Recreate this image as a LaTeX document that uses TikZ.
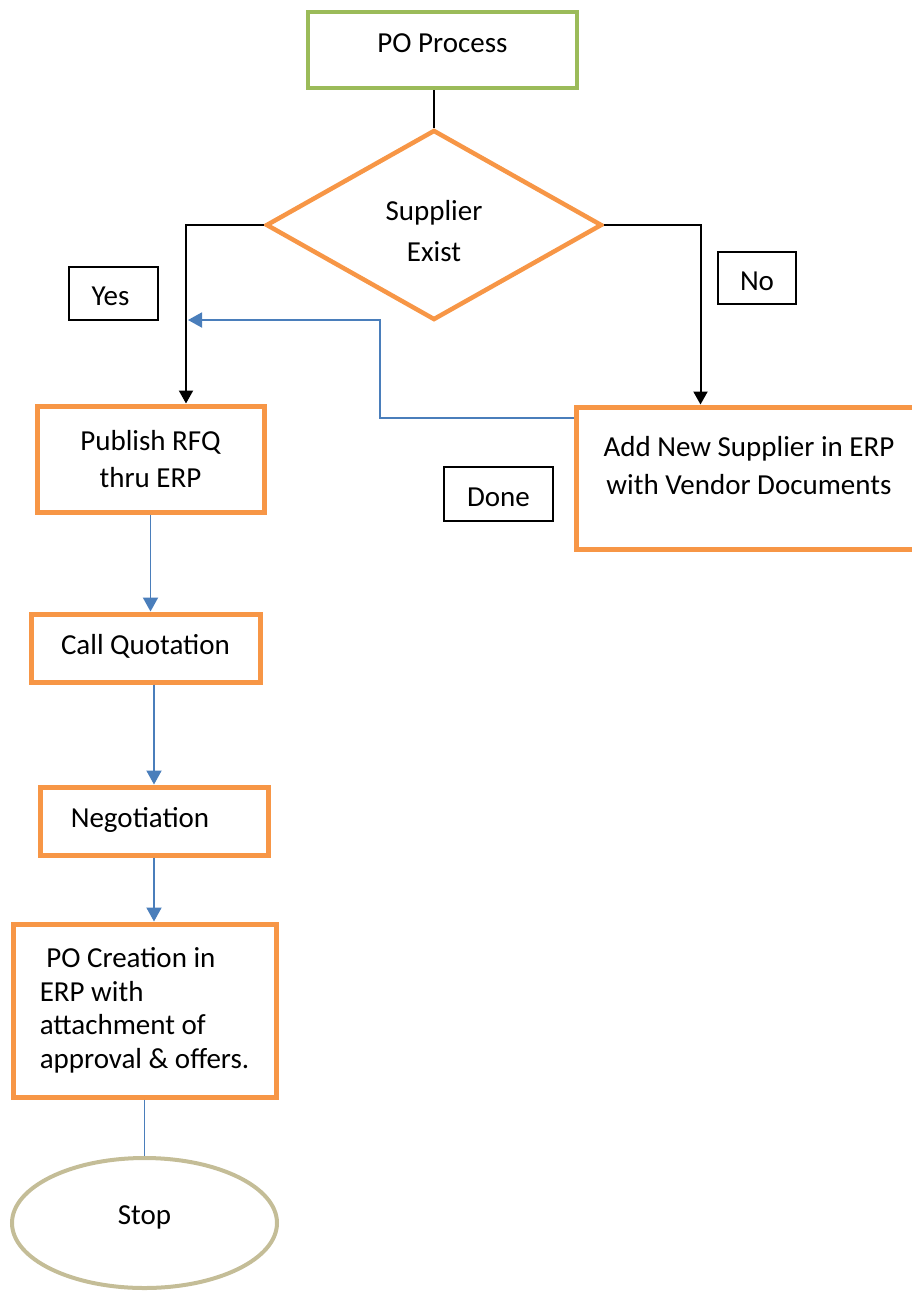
\documentclass[tikz,border=0pt]{standalone}
\usepackage{fontspec}
\setmainfont{Carlito}
\usetikzlibrary{arrows.meta,shapes.geometric,calc}
\definecolor{orng}{HTML}{F79646}
\definecolor{grn}{HTML}{9BBB59}
\definecolor{bluel}{HTML}{4A7EBB}
\definecolor{tanc}{HTML}{C4BD97}
\begin{document}
\begin{tikzpicture}[x=1pt,y=-1pt,
  every node/.style={font=\fontsize{29}{36}\selectfont, inner sep=0pt},
  obox/.style={draw=orng, line width=5pt, rectangle},
  tagbox/.style={draw=black, line width=1.2pt, rectangle},
  blk/.style={draw=black, line width=2pt},
  blu/.style={draw=bluel, line width=1.9pt},
  ktip/.style={-{Triangle[width=14pt,length=13pt]}},
  btip/.style={-{Triangle[width=15pt,length=14pt]}},
]
\useasboundingbox (0,0) rectangle (912,1291);
\clip (0,0) rectangle (912,1291);

\node[draw=grn, line width=4pt, rectangle, minimum width=269pt, minimum height=76pt,
  label={[yshift=7pt]center:PO Process}] (po) at (442.5,50) {};
\node[diamond, draw=orng, line width=4.5pt, minimum width=336pt, minimum height=190pt,
  label={[yshift=-6.5pt, align=center, font=\fontsize{29}{41}\selectfont]center:Supplier\\Exist}] (dia) at (434,225) {};

\node[tagbox, minimum width=89pt, minimum height=53pt,
  label={[xshift=-3pt, yshift=-3pt]center:Yes}] (yes) at (113.5,293.5) {};
\node[tagbox, minimum width=78pt, minimum height=52pt,
  label={[yshift=-3pt]center:No}] (no) at (757,278) {};
\node[tagbox, minimum width=109pt, minimum height=54pt,
  label={[yshift=-3pt]center:Done}] (done) at (498.5,494) {};

\node[obox, minimum width=227pt, minimum height=106pt, align=center,
  font=\fontsize{29}{37}\selectfont] (pub) at (150.5,459) {Publish RFQ\\thru ERP};
\node[obox, minimum width=349pt, minimum height=142pt,
  label={[yshift=12pt, xshift=-1.5pt, align=center, font=\fontsize{29}{38}\selectfont]center:Add New Supplier in ERP\\with Vendor Documents}] (add) at (750.5,478) {};

\node[obox, minimum width=229pt, minimum height=68pt,
  label={[yshift=1.5pt]center:Call Quotation}] (call) at (145.5,648) {};
\node[obox, minimum width=228pt, minimum height=68pt,
  label={[xshift=-14pt, yshift=1pt]center:Negotiation}] (neg) at (154,821) {};
\node[obox, minimum width=263pt, minimum height=173pt, align=left,
  font=\fontsize{29}{33.5}\selectfont] (poc) at (144.5,1010.5)
  {\ PO Creation in\\ERP with\\attachment of\\approval \& offers.};
\node[ellipse, draw=tanc, line width=4pt, minimum width=265pt, minimum height=130pt,
  label={[yshift=6pt]center:Stop}] (stop) at (144.5,1223) {};

\coordinate (fbbend) at (380,320);
\coordinate (fbend) at (188,320);

\draw[blk] (dia.north |- po.south) -- (dia.north);
\draw[blk, ktip] (dia.west) -| ([xshift=35.5pt]pub.north);
\draw[blk, ktip] (dia.east) -| ([xshift=127pt]add.north west);
\draw[blu, btip] ([yshift=60pt]add.west) -| (fbbend) -- (fbend);
\draw[blu, btip] (pub.south) -- (pub.south |- call.north);
\draw[blu, btip] (call.south -| neg.north) -- (neg.north);
\draw[blu, btip] (neg.south) -- (neg.south |- poc.north);
\draw[blu] (poc.south) -- (stop.north);
\end{tikzpicture}
\end{document}
